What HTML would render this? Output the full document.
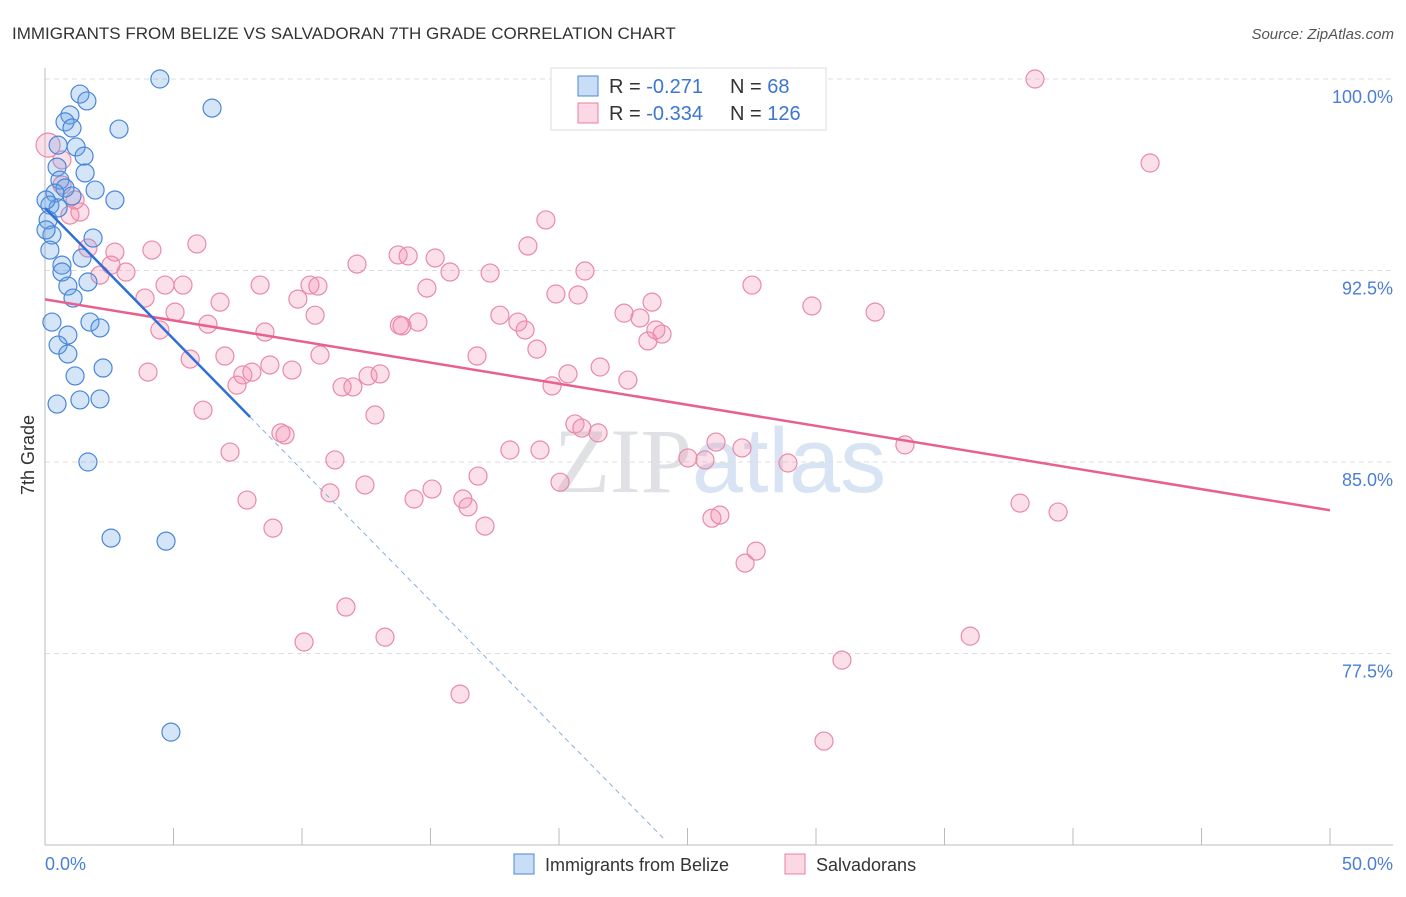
<!DOCTYPE html>
<html><head><meta charset="utf-8"><style>
body{margin:0;background:#fff;font-family:"Liberation Sans",sans-serif;overflow:hidden;}
svg text{font-family:"Liberation Sans",sans-serif;}
</style></head><body>
<svg id="chart" width="1406" height="892" xmlns="http://www.w3.org/2000/svg">
<text x="12" y="39" font-size="17" fill="#333">IMMIGRANTS FROM BELIZE VS SALVADORAN 7TH GRADE CORRELATION CHART</text>
<text x="1394" y="39" font-size="15" fill="#555" text-anchor="end" font-style="italic">Source: ZipAtlas.com</text>
<text x="720" y="492" font-size="92" fill="#e6e9ee" text-anchor="middle"><tspan font-family="Liberation Serif" fill="#dfe1e4">ZIP</tspan><tspan fill="#d8e4f4">atlas</tspan></text>
<g id="grid"></g>
<g id="axes"></g>
<g id="marks"></g>
<text transform="translate(34,455) rotate(-90)" font-size="18" fill="#333" text-anchor="middle">7th Grade</text>
<g>
<rect x="551" y="68" width="275" height="62" fill="#fff" stroke="#ddd"/>
<rect x="578" y="76" width="20" height="20" fill="rgba(100,160,230,0.35)" stroke="#4a86d8"/>
<rect x="578" y="103" width="20" height="20" fill="rgba(244,143,177,0.35)" stroke="#e87fa0"/>
<text x="609" y="93" font-size="20" fill="#333">R = <tspan fill="#3c76d0"> -0.271</tspan></text>
<text x="730" y="93" font-size="20" fill="#333">N = <tspan fill="#3c76d0"> 68</tspan></text>
<text x="609" y="120" font-size="20" fill="#333">R = <tspan fill="#3c76d0">-0.334</tspan></text>
<text x="730" y="120" font-size="20" fill="#333">N = <tspan fill="#3c76d0">126</tspan></text>
</g>
<g>
<rect x="514" y="854" width="20" height="20" fill="rgba(100,160,230,0.35)" stroke="#4a86d8"/>
<text x="545" y="871" font-size="18" fill="#333">Immigrants from Belize</text>
<rect x="785" y="854" width="20" height="20" fill="rgba(244,143,177,0.35)" stroke="#e87fa0"/>
<text x="816" y="871" font-size="18" fill="#333">Salvadorans</text>
</g>
</svg>
<script>
const yTicks=[100,92.5,85,77.5];
const yTickLabels=["100.0%","92.5%","85.0%","77.5%"];
const xTickLabels=["0.0%","50.0%"];
const belizeX=[1.36,1.63,0.97,0.78,1.05,2.88,4.47,6.50,0.51,1.21,1.52,0.47,1.56,0.58,1.95,0.78,1.05,0.39,2.72,0.19,0.51,0.12,0.27,1.87,0.19,1.44,0.66,0.66,1.67,0.89,1.09,0.27,1.75,2.14,0.89,0.51,0.89,2.26,1.17,0.47,1.36,2.14,1.67,2.57,4.71,4.90,0.04,0.04];
const belizeY=[99.41,99.14,98.59,98.32,98.08,98.04,100,98.86,97.41,97.34,96.98,96.55,96.32,96.04,95.65,95.73,95.42,95.53,95.26,95.06,94.95,94.48,93.89,93.77,93.30,92.99,92.71,92.44,92.05,91.89,91.42,90.48,90.48,90.25,89.97,89.58,89.23,88.68,88.37,87.27,87.43,87.47,85.0,82.02,81.90,74.42,95.26,94.09];
const salvX=[38.52,43.0,24.7,0.12,0.66,1.36,0.97,1.67,2.72,4.16,5.91,2.14,3.15,2.57,3.89,4.67,5.37,6.81,5.06,4.47,6.34,8.37,9.84,10.31,10.62,10.51,12.14,8.56,10.70,13.74,14.13,15.18,15.76,14.86,17.32,18.79,19.49,21.01,19.88,20.74,13.79,13.89,14.51,17.70,18.40,18.68,19.14,16.81,22.53,23.15,23.62,23.77,24.01,23.46,27.51,29.84,32.30,4.01,5.65,7.0,7.70,8.05,7.47,8.75,9.61,11.56,11.98,12.57,13.04,12.84,6.15,19.73,20.35,21.60,22.68,9.18,9.34,7.20,11.28,20.62,20.89,21.52,18.09,19.26,26.11,27.12,25.02,25.68,28.91,33.46,16.85,20.04,12.45,11.09,7.86,14.36,15.06,16.26,16.46,17.12,8.87,25.95,26.26,37.94,39.42,27.67,27.24,11.71,13.23,10.08,16.15,31.01,36.0,30.31,0.66,1.17];
const salvY=[100,96.71,100,97.41,96.83,94.79,94.67,93.38,93.22,93.30,93.54,92.32,92.44,92.71,91.42,91.93,91.93,91.26,90.87,90.17,90.40,91.93,91.38,91.93,91.89,90.75,92.75,90.09,89.19,93.11,93.07,92.99,92.44,91.81,92.40,93.46,94.48,92.48,91.58,91.54,90.36,90.33,90.48,90.75,90.48,90.17,89.42,89.15,90.83,90.64,91.26,90.17,90.01,89.74,91.93,91.11,90.87,88.52,89.03,89.15,88.41,88.52,88.01,88.80,88.60,87.94,87.94,88.37,88.45,86.84,87.03,87.98,88.45,88.72,88.21,86.14,86.06,85.39,85.08,86.49,86.33,86.14,85.47,85.47,85.78,85.55,85.16,85.08,84.96,85.67,84.45,84.21,84.10,83.79,83.51,83.55,83.94,83.55,83.24,82.49,82.41,82.80,82.92,83.39,83.04,81.51,81.04,79.32,78.14,77.95,75.91,77.24,78.18,74.07,95.85,95.26];
const belizeTrend=[94.95,-1.026];
const salvTrend=[91.37,-0.1652];
const belizeSolidEnd=7.98;
const belizeDashEnd=24.12;

const X0=45,X1=1330,YTOP=79,PXPER=191.5/7.5;
const sx=v=>X0+(v/50)*(X1-X0);
const sy=v=>YTOP+(100-v)*PXPER;
const NS="http://www.w3.org/2000/svg";
function mk(tag,attrs,parent){const e=document.createElementNS(NS,tag);for(const k in attrs)e.setAttribute(k,attrs[k]);parent.appendChild(e);return e;}
const grid=document.getElementById('grid'),axes=document.getElementById('axes'),marks=document.getElementById('marks');
yTicks.forEach((t,i)=>{
  const l=mk('line',{x1:X0,x2:1393,y1:sy(t),y2:sy(t),stroke:'#ddd','stroke-dasharray':'5,4'},grid);
  
  
  const tx=mk('text',{x:1393,y:sy(t)+24,'font-size':18,fill:'#4a7fd4','text-anchor':'end'},axes);
  tx.textContent=yTickLabels[i];
  
  
});
const ya=mk('line',{x1:X0,x2:X0,y1:68,y2:845,stroke:'#bbb'},axes);


const xa=mk('line',{x1:X0,x2:1393,y1:845,y2:845,stroke:'#bbb'},axes);


for(let i=0;i<=10;i++){
  const x=sx(i*5);
  const t=mk('line',{x1:x,x2:x,y1:828,y2:845,stroke:'#bbb'},axes);
  
  
}
[[0,'start',45],[50,'end',1393]].forEach((d,i)=>{
  const t=mk('text',{x:d[2],y:870,'font-size':18,fill:'#4a7fd4','text-anchor':d[1]},axes);
  t.textContent=xTickLabels[i];
  
  
});
salvX.forEach((v,i)=>{
  const c=mk('circle',{cx:sx(v),cy:sy(salvY[i]),r:i==3?12:9,fill:'rgba(244,143,177,0.28)',stroke:'#e98aa8','stroke-width':1.2},marks);
  
  
});
belizeX.forEach((v,i)=>{
  const c=mk('circle',{cx:sx(v),cy:sy(belizeY[i]),r:9,fill:'rgba(100,160,230,0.28)',stroke:'#4a86d8','stroke-width':1.2},marks);
  
  
});
const pl=mk('line',{x1:sx(0),y1:sy(salvTrend[0]),x2:sx(50),y2:sy(salvTrend[0]+salvTrend[1]*50),stroke:'#e8608f','stroke-width':2.5},marks);


const bl=mk('line',{x1:sx(0),y1:sy(belizeTrend[0]),x2:sx(belizeSolidEnd),y2:sy(belizeTrend[0]+belizeTrend[1]*belizeSolidEnd),stroke:'#2f6fd8','stroke-width':2.5},marks);


const bd=mk('line',{x1:sx(belizeSolidEnd),y1:sy(belizeTrend[0]+belizeTrend[1]*belizeSolidEnd),x2:sx(belizeDashEnd),y2:sy(belizeTrend[0]+belizeTrend[1]*belizeDashEnd),stroke:'#8aaee0','stroke-width':1,'stroke-dasharray':'5,4'},marks);


</script>
</body></html>
